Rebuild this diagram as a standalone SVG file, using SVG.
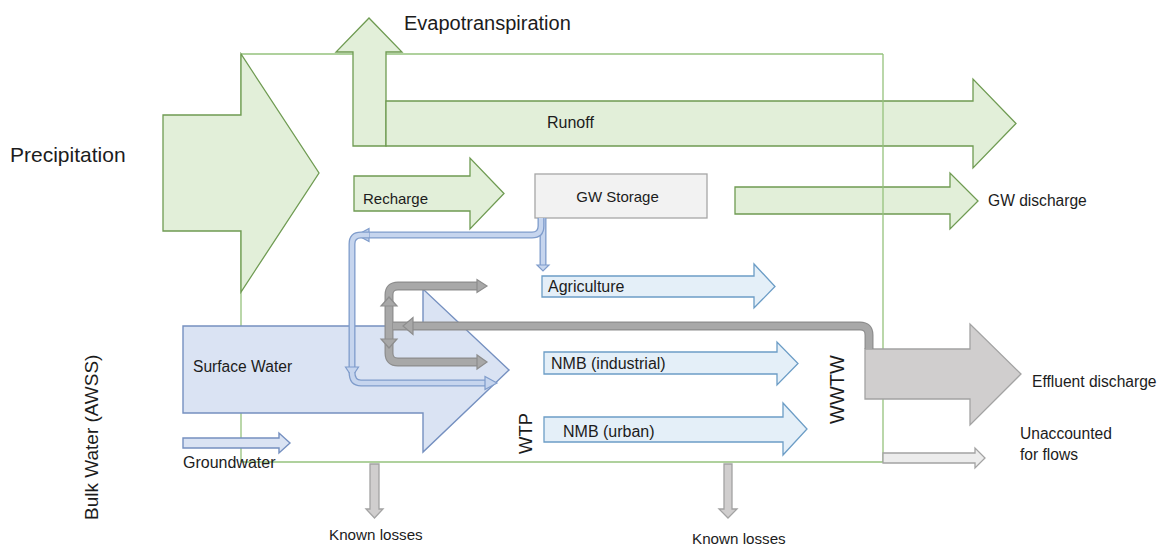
<svg xmlns="http://www.w3.org/2000/svg" width="1160" height="545" viewBox="0 0 1160 545">
<style>
text{font-family:"Liberation Sans",Arial,sans-serif;fill:#1c1c1c}
.box{stroke:#95c27c;stroke-width:1.3;fill:none}
.gr{fill:#e2efd9;stroke:#6f9b52;stroke-width:1.3;stroke-linejoin:miter}
.sw{fill:#dae3f3;stroke:#7590c0;stroke-width:1.4}
.fl{fill:#e4eff8;stroke:#6c9dc6;stroke-width:1.3}
.gy{fill:#d0cece;stroke:#a3a3a3;stroke-width:1.3}
.gyl{fill:#ececec;stroke:#a3a3a3;stroke-width:1.3}
.st{fill:#f2f2f2;stroke:#a6a6a6;stroke-width:1.3}
.bpo{fill:none;stroke:#7f9ccb;stroke-width:7}
.bpi{fill:none;stroke:#c6d5ee;stroke-width:4.4}
.bah{fill:#c6d5ee;stroke:#7f9ccb;stroke-width:1.2}
.gpo{fill:none;stroke:#8d8d8d;stroke-width:9}
.gpi{fill:none;stroke:#a8a8a8;stroke-width:6.6}
.gah{fill:#a8a8a8;stroke:#8d8d8d;stroke-width:1.2}
</style>
<g id="boundary">
<line class="box" x1="241" y1="54" x2="883" y2="54"/>
<line class="box" x1="241" y1="54" x2="241" y2="462"/>
<line class="box" x1="241" y1="462" x2="883" y2="462"/>
</g>
<g id="precipitation">
<polygon class="gr" points="163,115 241,115 241,54 319,173 241,292 241,231 163,231"/>
<text x="10" y="162" font-size="21">Precipitation</text>
</g>
<g id="evapotranspiration">
<polygon class="gr" points="353,146 353,52 336,52 369,18 402,52 386,52 386,146"/>
<text x="404" y="30" font-size="20">Evapotranspiration</text>
</g>
<g id="runoff">
<polygon class="gr" points="386,101 973,101 973,79 1016,123.5 973,168 973,146 386,146"/>
<text x="547" y="128" font-size="16">Runoff</text>
</g>
<g id="recharge">
<polygon class="gr" points="354,176 470,176 470,158 504,193.5 470,229 470,211 354,211"/>
<text x="363" y="204" font-size="15">Recharge</text>
</g>
<g id="gw-discharge">
<polygon class="gr" points="735,187 950,187 950,173 978,201 950,229 950,214 735,214"/>
<text x="988" y="206" font-size="15.6">GW discharge</text>
</g>
<g id="boundary-right">
<line class="box" x1="883" y1="54" x2="883" y2="462"/>
</g>
<g id="gw-storage">
<rect class="st" x="535" y="174" width="172" height="44"/>
<text x="617.5" y="202" font-size="15" text-anchor="middle">GW Storage</text>
</g>
<g id="surface-water">
<polygon class="sw" points="183,326 423,326 423,289 509,370 423,452 423,413 183,413"/>
<text x="193" y="372" font-size="15.6">Surface Water</text>
</g>
<g id="groundwater">
<polygon class="sw" points="183,438 279,438 279,433 290,443 279,453 279,448 183,448"/>
<text x="183" y="468" font-size="16">Groundwater</text>
</g>
<g id="bulk-water">
<text transform="translate(98,520) rotate(-90)" font-size="19">Bulk Water (AWSS)</text>
</g>
<g id="agriculture">
<polygon class="fl" points="542,276 754,276 754,264 775,286.5 754,308 754,297 542,297"/>
<text x="548" y="292" font-size="16">Agriculture</text>
</g>
<g id="nmb-industrial">
<polygon class="fl" points="544,352 777,352 777,342 798,363.5 777,385 777,374 544,374"/>
<text x="551" y="369" font-size="16">NMB (industrial)</text>
</g>
<g id="nmb-urban">
<polygon class="fl" points="544,417 783,417 783,403 807,429 783,455 783,442 544,442"/>
<text x="563" y="437" font-size="16">NMB (urban)</text>
</g>
<g id="wtp">
<text transform="translate(532,454) rotate(-90)" font-size="18.5">WTP</text>
</g>
<g id="wwtw">
<text transform="translate(844,424) rotate(-90)" font-size="20">WWTW</text>
</g>
<g id="effluent-discharge">
<polygon class="gy" points="865,349 970,349 970,324 1021,374 970,425 970,399 865,399"/>
<text x="1032" y="387" font-size="15.6">Effluent discharge</text>
</g>
<g id="unaccounted">
<polygon class="gyl" points="883,453 975,453 975,448 985,458 975,468 975,463 883,463"/>
<text x="1020" y="439" font-size="15.6">Unaccounted</text>
<text x="1020" y="460" font-size="15.6">for flows</text>
</g>
<g id="known-losses-1">
<polygon class="gy" points="370,464 379,464 379,509 383,509 374.5,518 366,509 370,509"/>
<text x="329" y="540" font-size="15.2">Known losses</text>
</g>
<g id="known-losses-2">
<polygon class="gy" points="724,464 732,464 732,509 737,509 728,518 719,509 724,509"/>
<text x="692" y="544" font-size="15.2">Known losses</text>
</g>
<g id="connectors">
<path class="bpo" d="M543,218 V265"/>
<path class="bpi" d="M543,218 V265"/>
<polygon class="bah" points="537,265 549,265 543,271"/>
<path class="bpo" d="M541,218 V226 Q541,235 532,235 H368"/>
<path class="bpi" d="M541,218 V226 Q541,235 532,235 H368"/>
<polygon class="bah" points="369,228.5 369,241.5 357,235"/>
<path class="bpo" d="M369,235 H361 Q352,235 352,244 V367"/>
<path class="bpi" d="M369,235 H361 Q352,235 352,244 V367"/>
<polygon class="bah" points="345.5,367 358.5,367 352,377"/>
<path class="bpo" d="M352,372 Q352,383 361,383 H485"/>
<path class="bpi" d="M352,372 Q352,383 361,383 H485"/>
<polygon class="bah" points="485,376.5 485,389.5 497,383"/>
<path class="gpo" d="M869,349 V335 Q869,326 860,326 H393"/>
<path class="gpo" d="M389,326 V295 Q389,286 398,286 H477"/>
<path class="gpo" d="M389,326 V353 Q389,362 398,362 H477"/>
<path class="gpi" d="M869,349 V335 Q869,326 860,326 H393"/>
<path class="gpi" d="M389,326 V295 Q389,286 398,286 H477"/>
<path class="gpi" d="M389,326 V353 Q389,362 398,362 H477"/>
<polygon class="gah" points="413,317.5 413,334.5 403,326"/>
<polygon class="gah" points="381,306 397,306 389,297"/>
<polygon class="gah" points="381,339 397,339 389,348"/>
<polygon class="gah" points="477,279.5 477,292.5 487,286"/>
<polygon class="gah" points="477,355 477,369 487,362"/>
</g>
</svg>
